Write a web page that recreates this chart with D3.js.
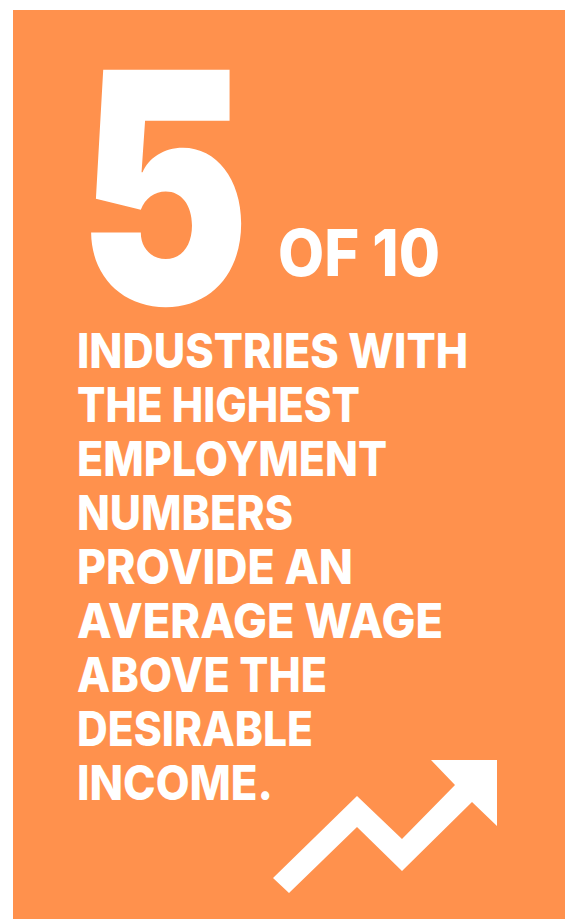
<!DOCTYPE html>
<html>
<head>
<meta charset="utf-8">
<script src="https://cdn.jsdelivr.net/npm/d3@7"></script>
<style>
  html, body { margin: 0; padding: 0; background: #ffffff; }
  svg { display: block; }
</style>
</head>
<body>
<svg id="chart" width="565" height="919"></svg>
<script>
// ---- data ----
const bigNumber = "5";
const ofTotal = "OF 10";
const statementLines = [
  "INDUSTRIES WITH",
  "THE HIGHEST",
  "EMPLOYMENT",
  "NUMBERS",
  "PROVIDE AN",
  "AVERAGE WAGE",
  "ABOVE THE",
  "DESIRABLE",
  "INCOME."
];
const lineWidths = [391, 283, 310, 216, 276, 366, 250, 236, 196];
// trend-arrow icon outline in its own unit space (0..224 x 0..133)
const arrowIcon = [
  [16,133],[84,67],[129,111],[199,42],[224,66],[224,0],[158,0],[182,25],[129,79],[84,36],[0,118]
];

// ---- drawing ----
const W = 565, H = 919;
const svg = d3.select("#chart");
const bg = "#FF914D";
const fg = "#FFFFFF";
const font = "Inter, 'Open Sans', Lato, sans-serif";

svg.append("rect")
  .attr("x", 13).attr("y", 10)
  .attr("width", W - 13).attr("height", H - 10)
  .attr("fill", bg);

// big number
svg.append("text")
  .attr("x", 78).attr("y", 304)
  .attr("font-family", font)
  .attr("font-weight", 900)
  .attr("font-size", 322)
  .attr("textLength", 172)
  .attr("lengthAdjust", "spacingAndGlyphs")
  .attr("fill", fg)
  .text(bigNumber);

svg.append("text")
  .attr("x", 278).attr("y", 276)
  .attr("font-family", font)
  .attr("font-weight", 800)
  .attr("font-size", 64)
  .attr("textLength", 162)
  .attr("lengthAdjust", "spacingAndGlyphs")
  .attr("fill", fg)
  .text(ofTotal);

// statement lines
const yLine = d3.scaleLinear().domain([0, statementLines.length - 1]).range([368, 800]);
svg.append("g").selectAll("text")
  .data(statementLines)
  .join("text")
  .attr("x", 77)
  .attr("y", (d, i) => yLine(i))
  .attr("font-family", font)
  .attr("font-weight", 800)
  .attr("font-size", 48)
  .attr("textLength", (d, i) => lineWidths[i])
  .attr("lengthAdjust", "spacingAndGlyphs")
  .attr("fill", fg)
  .text(d => d);

// trend arrow icon
const ax = d3.scaleLinear().domain([0, 224]).range([273, 497]);
const ay = d3.scaleLinear().domain([0, 133]).range([760, 893]);
svg.append("path")
  .attr("d", d3.line().x(d => ax(d[0])).y(d => ay(d[1])).curve(d3.curveLinearClosed)(arrowIcon))
  .attr("fill", fg);
</script>
</body>
</html>
